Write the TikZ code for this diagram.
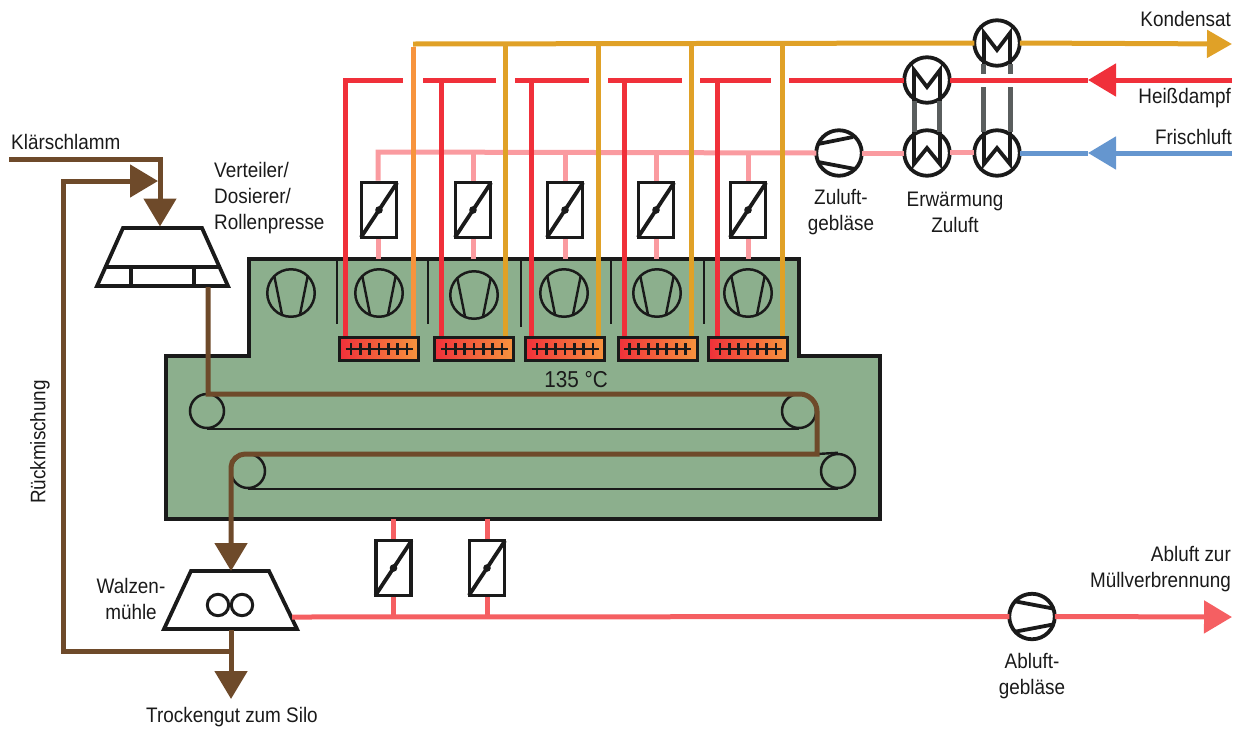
\documentclass[tikz,border=0pt]{standalone}
\usepackage{fontspec}
\setmainfont{Liberation Sans}[FakeStretch=0.9]
\usetikzlibrary{arrows.meta,calc}
\definecolor{cgreen}{HTML}{8CAF8D}
\definecolor{cred}{HTML}{F0303A}
\definecolor{cgold}{HTML}{E0A127}
\definecolor{corange}{HTML}{F7943D}
\definecolor{cpink}{HTML}{FA9BA0}
\definecolor{cblue}{HTML}{6596CF}
\definecolor{cbrown}{HTML}{6E4A2A}
\definecolor{cexh}{HTML}{F55F62}
\definecolor{cgray}{HTML}{5A5E5E}
\definecolor{cblack}{HTML}{1A1A1A}
\tikzset{
  pipe/.style={line width=5pt},
  redp/.style={pipe,draw=cred},
  goldp/.style={pipe,draw=cgold},
  orangep/.style={pipe,draw=corange},
  pinkp/.style={pipe,draw=cpink},
  bluep/.style={pipe,draw=cblue},
  brownp/.style={pipe,draw=cbrown},
  exhp/.style={pipe,draw=cexh},
  grayp/.style={pipe,draw=cgray},
  tipT/.style={-{Triangle[length=28pt,width=32pt]}},
  equip/.style={draw=cblack,line width=3.8pt,line join=miter},
  thin/.style={draw=cblack,line width=2.4pt},
  round node/.style={circle,inner sep=0pt,minimum size=45.5pt,outer sep=0pt},
  fancirc/.style={round node,draw=cblack,line width=3.8pt,fill=white},
  boxfan/.style={circle,inner sep=0pt,minimum size=47.5pt,draw=cblack,line width=2.5pt},
  roller/.style={circle,inner sep=0pt,minimum size=34pt,draw=cblack,line width=2.5pt},
  dampbox/.style={rectangle,inner sep=0pt,minimum width=35pt,minimum height=55pt,draw=cblack,line width=3.8pt,fill=white},
  heater/.style={rectangle,inner sep=0pt,minimum width=79pt,minimum height=23pt,draw=cblack,line width=3pt,left color=cred,right color=corange},
  lbl/.style={inner sep=0pt,font=\fontsize{21}{26}\selectfont,text=cblack,align=center},
}
\newcommand{\mydamper}[3]{%
  \node[dampbox] (#1) at (#2,#3) {};
  \draw[equip,shorten <=2.5pt,shorten >=2.5pt] (#1.south west) -- (#1.north east);
  \fill[cblack] (#1.center) circle (3.8pt);
}
\newcommand{\myboxfan}[3]{%
  \node[boxfan] (#1) at (#2,#3) {};
  \draw[thin] ($(#1)+(-16.5,-16)$) -- ($(#1)+(-9,21.5)$);
  \draw[thin] ($(#1)+(16.5,-16)$) -- ($(#1)+(9,21.5)$);
}
\newcommand{\mysidefan}[3]{%
  \node[fancirc] (#1) at (#2,#3) {};
  \draw[equip] ($(#1)+(-21,-9)$) -- ($(#1)+(14,-16)$);
  \draw[equip] ($(#1)+(-21,9)$) -- ($(#1)+(16,16)$);
}
\newcommand{\myexhfan}[3]{%
  \node[fancirc] (#1) at (#2,#3) {};
  \draw[equip] ($(#1)+(-16,-15)$) -- ($(#1)+(21,-8)$);
  \draw[equip] ($(#1)+(-16,15)$) -- ($(#1)+(21,8)$);
}
\newcommand{\myheatup}[3]{%
  \node[fancirc] (#1) at (#2,#3) {};
  \draw[equip] ($(#1)+(-13,21)$) -- ($(#1)+(-13,-10)$) -- ($(#1)+(0,7)$) -- ($(#1)+(13,-10)$) -- ($(#1)+(13,21)$);
}
\newcommand{\myheatdown}[3]{%
  \node[fancirc] (#1) at (#2,#3) {};
  \draw[equip] ($(#1)+(-13,-21)$) -- ($(#1)+(-13,11)$) -- ($(#1)+(0,-5)$) -- ($(#1)+(13,11)$) -- ($(#1)+(13,-21)$);
}
\newcommand{\myheater}[3]{%
  \node[heater] (#1) at (#2,#3) {};
  \draw[thin,line width=2.7pt] ($(#1)+(-33.5,0)$) -- ($(#1)+(33.5,0)$);
  \foreach \tx in {-28,-18.7,-9.3,0,9.3,18.7,28}
    \draw[thin,line width=2.7pt] ($(#1)+(\tx,-6)$) -- ($(#1)+(\tx,6)$);
}
\begin{document}
\begin{tikzpicture}[x=1pt,y=-1pt]
\useasboundingbox (0,0) rectangle (1241,729);
% housing
\draw[fill=cgreen,draw=cblack,line width=4pt,line join=miter] (249,259) -- (799,259) -- (799,356) -- (880,356) -- (880,519) -- (166,519) -- (166,356) -- (249,356) -- cycle;
\coordinate (boxtop) at (0,259);
\coordinate (boxbot) at (0,519);
% dividers
\foreach \x/\yy in {337/324,428/324,521/327,611/324,704/324}
  \draw[thin] (\x,260) -- (\x,\yy);
% box fans
\myboxfan{f0}{291}{293}
\myboxfan{f1}{379}{293}
\myboxfan{f2}{474}{295}
\myboxfan{f3}{564}{293}
\myboxfan{f4}{657}{293}
\myboxfan{f5}{748}{293}
% heaters (created before pipes)
\myheater{h1}{379}{349}
\myheater{h2}{474}{349}
\myheater{h3}{565}{349}
\myheater{h4}{657.5}{349}
\myheater{h5}{748}{349}
% dampers
\mydamper{d1}{379}{210}
\mydamper{d2}{473}{210}
\mydamper{d3}{565}{210}
\mydamper{d4}{656}{210}
\mydamper{d5}{748}{210}
% heat exchangers and supply fan
\myheatup{he1t}{927}{80}
\myheatdown{he1b}{927}{153}
\myheatup{he2t}{997}{43}
\myheatdown{he2b}{997}{153}
\mysidefan{zf}{839}{153}
% pink supply air
\coordinate (pinkend) at (378,152);
\draw[pinkp,line join=miter] (zf.west) -- (pinkend) -- (d1.north -| pinkend);
\foreach \d in {d2,d3,d4,d5} \draw[pinkp] (\d.north) -- (\d.north |- pinkend);
\draw[pinkp] (d1.south -| pinkend) -- (boxtop -| pinkend);
\foreach \d in {d2,d3,d4,d5} \draw[pinkp] (\d.south) -- (\d.south |- boxtop);
\draw[pinkp] (he1b.west) -- (zf.east);
\draw[pinkp] ([yshift=1pt]he2b.west) -- ([yshift=1pt]he1b.east);
% fresh air
\coordinate (frin) at (1232,153);
\coordinate (frtip) at (1088,153);
\draw[bluep] (frtip) -- (he2b.east);
\draw[bluep,tipT] (frin) -- (frtip);
% red bus
\coordinate (r1) at (345,80);
\coordinate (r2) at (441,80);
\coordinate (r3) at (531,80);
\coordinate (r4) at (624,80);
\coordinate (r5) at (717,80);
\draw[redp,line join=miter] (403,80) -- (r1) -- (r1 |- h1.north);
\foreach \a/\b in {423/496,515/589,608/682,700/771}
  \draw[redp] (\a,80) -- (\b,80);
\draw[redp] (r2) -- (r2 |- h2.north);
\draw[redp] (r3) -- (r3 |- h3.north);
\draw[redp] (r4) -- (r4 |- h4.north);
\draw[redp] (r5) -- (r5 |- h5.north);
\coordinate (hdin) at (1232,80);
\coordinate (hdtip) at (1088,80);
\coordinate (r6) at (789,80);
\draw[redp] (r6) -- (he1t.west);
\draw[redp] (he1t.east) -- (hdtip);
\draw[redp,tipT] (hdin) -- (hdtip);
% gold bus
\coordinate (g1) at (413,44);
\coordinate (g2) at (505,44);
\coordinate (g3) at (598,44);
\coordinate (g4) at (691,44);
\coordinate (g5) at (782,44);
\coordinate (kond) at (1232,44);
\draw[goldp] (he2t.west) -- (g1);
\draw[orangep] ([yshift=-2.5pt]g1) -- (g1 |- h1.north);
\draw[goldp] (g2) -- (g2 |- h2.north);
\draw[goldp] (g3) -- (g3 |- h3.north);
\draw[goldp] (g4) -- (g4 |- h4.north);
\draw[goldp] (g5) -- (g5 |- h5.north);
\draw[goldp,-{Triangle[length=25pt,width=27pt]}] (he2t.east) -- (kond);
% gray links
\draw[grayp] (914,101) -- (914,132);
\draw[grayp] (939,101) -- (939,132);
\draw[grayp] (983,64) -- (983,74);
\draw[grayp] (1010,64) -- (1010,74);
\draw[grayp] (983,87) -- (983,132);
\draw[grayp] (1010,87) -- (1010,132);
% conveyors
\node[roller] (u1) at (207,411) {};
\node[roller] (u2) at (799,411) {};
\node[roller] (l1) at (248,471) {};
\node[roller] (l2) at (838,471) {};
\draw[thin] (u1.south) -- (u2.south);
\draw[thin] (l1.south) -- (l2.south);
\draw[thin] (l2.north) -- (817,454);
% trapezoids
\draw[equip,fill=white] (123,228) -- (202,228) -- (228,286) -- (97,286) -- cycle;
\draw[equip] (106,267) -- (219,267);
\draw[equip] (131,267) -- (131,286);
\draw[equip] (194,267) -- (194,286);
\coordinate (vdtop) at (160,226.5);
\coordinate (vdbot) at (208,287);
\draw[equip,fill=white] (191,571) -- (269,571) -- (297,629) -- (164,629) -- cycle;
\draw[draw=cblack,line width=3pt] (218,605) circle (10.7pt);
\draw[draw=cblack,line width=3pt] (242,605) circle (10.7pt);
\coordinate (wmtop) at (231,571);
\coordinate (wmbot) at (231,630);
\coordinate (wmexh) at (292,617);
% brown product
\coordinate (klin) at (9,159);
\coordinate (klc) at (160,159);
\draw[brownp,tipT,line join=miter] (klin) -- (klc) -- (vdtop);
\coordinate (rm1) at (231,651);
\coordinate (rm2) at (63,651);
\coordinate (rm3) at (63,181);
\coordinate (rmtip) at (158,181);
\draw[brownp,tipT,line join=miter] (rm1) -- (rm2) -- (rm3) -- (rmtip);
\coordinate (silo) at (231,699);
\draw[brownp,tipT] (wmbot) -- (silo);
\draw[brownp,tipT,line join=miter] (vdbot) -- (208,394) -- (800,394) .. controls (809,394) and (817,402) .. (817,411) -- (817,454) -- (245,454) .. controls (238,454) and (231,460) .. (231,467) -- (wmtop);
% exhaust
\mydamper{d6}{393.5}{568}
\mydamper{d7}{487}{568}
\myexhfan{af}{1032}{616.5}
\coordinate (ex1) at (393.5,617);
\coordinate (ex2) at (487,617);
\coordinate (abl) at (1232,617);
\draw[exhp] (wmexh) -- (af.west);
\draw[exhp] (d6.north) -- (d6.north |- boxbot);
\draw[exhp] (d7.north) -- (d7.north |- boxbot);
\draw[exhp] (d6.south) -- (ex1);
\draw[exhp] (d7.south) -- (ex2);
\draw[exhp,tipT] (af.east) -- (abl);
% labels
\node[lbl,anchor=east] (tk) at (1231,19) {Kondensat};
\node[lbl,anchor=east] (th) at (1231,98) {Heißdampf};
\node[lbl,anchor=east] (tf) at (1232,137) {Frischluft};
\node[lbl,anchor=west] (tkl) at (11,142) {Klärschlamm};
\node[lbl,anchor=west,align=left] (tv) at (214,198.5) {Verteiler/\\Dosierer/\\Rollenpresse};
\node[lbl] (tz) at (841,212) {Zuluft-\\gebläse};
\node[lbl] (te) at (955,212) {Erwärmung\\Zuluft};
\node[lbl,rotate=90] (tr) at (40,442) {Rückmischung};
\node[lbl] (tw) at (131,598.5) {Walzen-\\mühle};
\node[lbl] (tt) at (232,717) {Trockengut zum Silo};
\node[lbl] (ta) at (1032,676) {Abluft-\\gebläse};
\node[lbl,anchor=east,align=right] (tm) at (1231,569.5) {Abluft zur\\Müllverbrennung};
\node[lbl,font=\fontsize{23}{26}\selectfont] (tc) at (576,380) {135 °C};
\end{tikzpicture}
\end{document}
